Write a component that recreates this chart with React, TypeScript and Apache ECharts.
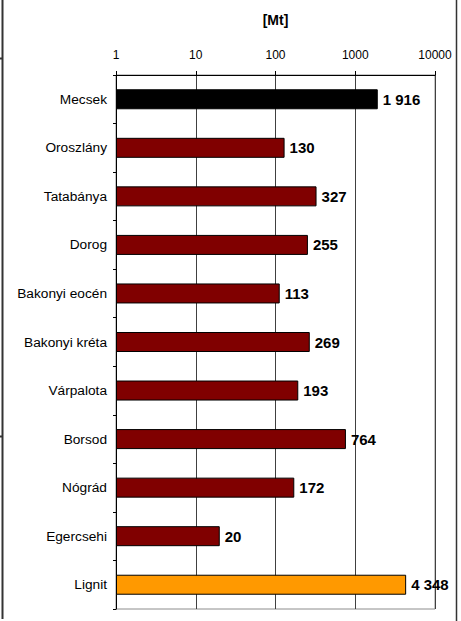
import React, { useEffect, useRef } from "react";
import * as echarts from "echarts";

const categories = [
  "Mecsek",
  "Oroszlány",
  "Tatabánya",
  "Dorog",
  "Bakonyi eocén",
  "Bakonyi kréta",
  "Várpalota",
  "Borsod",
  "Nógrád",
  "Egercsehi",
  "Lignit",
];
const values = [1916, 130, 327, 255, 113, 269, 193, 764, 172, 20, 4348];
const barColors = [
  "#000000",
  "#800000",
  "#800000",
  "#800000",
  "#800000",
  "#800000",
  "#800000",
  "#800000",
  "#800000",
  "#800000",
  "#FF9900",
];
const axisTicks = [1, 10, 100, 1000, 10000];
const unitLabel = "[Mt]";

const FONT = "'Liberation Sans', Arial, sans-serif";

function fmt(v: number): string {
  return String(v).replace(/\B(?=(\d{3})+(?!\d))/g, " ");
}

export default function App() {
  const ref = useRef<HTMLDivElement>(null);
  useEffect(() => {
    document.body.style.margin = "0";
    const chart = echarts.init(ref.current!, null, { renderer: "svg" });
    chart.setOption({
      animation: false,
      backgroundColor: "#ffffff",
      textStyle: { fontFamily: FONT },
      grid: {
        left: 116,
        right: 26,
        top: 75,
        bottom: 12,
        show: true,
        borderColor: "#8c8c8c",
        borderWidth: 1,
        backgroundColor: "transparent",
      },
      xAxis: {
        type: "log",
        logBase: 10,
        min: axisTicks[0],
        max: axisTicks[axisTicks.length - 1],
        position: "top",
        name: unitLabel,
        nameLocation: "middle",
        nameGap: 48,
        nameTextStyle: {
          fontFamily: FONT,
          fontWeight: "bold",
          fontSize: 14,
          color: "#000",
        },
        axisLine: { show: true, lineStyle: { color: "#000", width: 1 } },
        axisTick: { show: true, length: 4, lineStyle: { color: "#000" } },
        axisLabel: {
          fontFamily: FONT,
          fontSize: 12,
          color: "#000",
          margin: 14,
          formatter: (v: number) => String(Math.round(v)),
        },
        splitLine: { show: true, lineStyle: { color: "#404040", width: 1 } },
        minorTick: { show: false },
        minorSplitLine: { show: false },
      },
      yAxis: {
        type: "category",
        data: categories,
        inverse: true,
        axisLine: { show: true, lineStyle: { color: "#000", width: 1 } },
        axisTick: {
          show: true,
          length: 3,
          alignWithLabel: false,
          interval: 0,
          lineStyle: { color: "#000" },
        },
        axisLabel: {
          fontFamily: FONT,
          fontSize: 13.7,
          color: "#000",
          margin: 9,
          interval: 0,
        },
        splitLine: { show: false },
      },
      series: [
        {
          type: "bar",
          barWidth: 20,
          data: values.map((v, i) => ({
            value: v,
            itemStyle: {
              color: barColors[i],
              borderColor: "#000",
              borderWidth: 1,
            },
          })),
          label: {
            show: true,
            position: "right",
            distance: 5,
            fontFamily: FONT,
            fontWeight: "bold",
            fontSize: 15,
            color: "#000",
            formatter: (p: any) => fmt(p.value),
          },
        },
      ],
      graphic: [
        {
          type: "line",
          shape: { x1: 2.5, y1: 0, x2: 2.5, y2: 619 },
          style: { stroke: "#333", lineWidth: 2 },
        },
        {
          type: "line",
          shape: { x1: 0, y1: 58.5, x2: 3, y2: 58.5 },
          style: { stroke: "#333", lineWidth: 2 },
        },
        {
          type: "line",
          shape: { x1: 0, y1: 436.5, x2: 3, y2: 436.5 },
          style: { stroke: "#333", lineWidth: 2 },
        },
        {
          type: "line",
          shape: { x1: 456.5, y1: 0, x2: 456.5, y2: 621 },
          style: { stroke: "#333", lineWidth: 1.5 },
        },
      ],
    });
    return () => chart.dispose();
  }, []);
  return (
    <div
      ref={ref}
      style={{ position: "absolute", left: 0, top: 0, width: 461, height: 621 }}
    />
  );
}
